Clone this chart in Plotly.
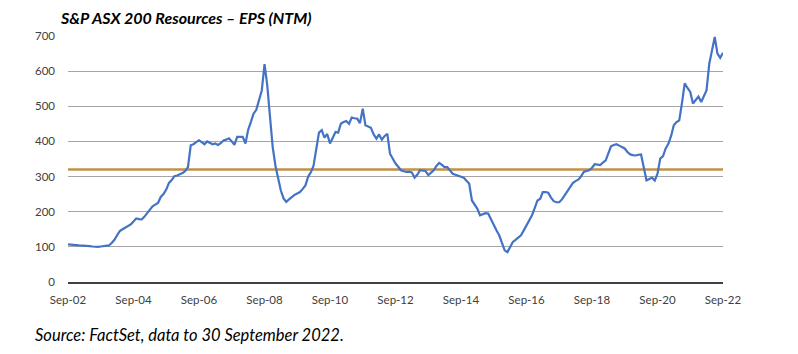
import pandas as pd
import plotly.graph_objects as go

# Monthly EPS (NTM), Sep-02 .. Sep-22
eps = [
    107, 107, 106, 105, 104, 104, 103, 102, 102, 101, 100, 100,
    101, 102, 103, 104, 111, 120, 133, 145, 150, 155, 160, 164,
    172, 181, 179, 178, 186, 195, 205, 215, 220, 225, 242, 250,
    263, 282, 290, 301, 303, 306, 310, 316, 327, 389, 392, 398,
    403, 398, 392, 400, 396, 392, 394, 390, 395, 403, 405, 409,
    400, 390, 413, 414, 413, 394, 432, 455, 479, 490, 520, 545,
    620, 560, 470, 384, 330, 290, 261, 238, 228, 235, 242, 248,
    252, 256, 265, 275, 300, 313, 330, 380, 425, 432, 411, 421,
    394, 410, 427, 425, 451, 455, 458, 450, 468, 466, 465, 452,
    493, 446, 442, 439, 420, 408, 420, 405, 415, 422, 365, 350,
    337, 328, 318, 315, 313, 314, 312, 297, 305, 318, 317, 316,
    304, 310, 318, 330, 339, 333, 327, 327, 318, 308, 305, 302,
    298, 297, 288, 280, 232, 220, 209, 190, 192, 196, 195, 178,
    161, 147, 133, 110, 90, 85, 100, 114, 120, 127, 133, 147,
    161, 175, 190, 210, 232, 237, 256, 256, 254, 240, 230, 227,
    227, 235, 247, 256, 268, 282, 287, 291, 300, 313, 316, 318,
    325, 335, 334, 333, 340, 346, 365, 386, 390, 392, 388, 385,
    380, 370, 363, 361, 360, 362, 363, 325, 289, 293, 297, 289,
    308, 351, 358, 380, 394, 417, 446, 455, 460, 510, 565, 552,
    541, 508, 520, 528, 512, 530, 545, 621, 660, 697, 650, 638, 652,
]
dates = pd.date_range("2002-09-01", periods=len(eps), freq="MS")
average = [320] * len(eps)

tick_dates = ["2002-09-01", "2004-09-01", "2006-09-01", "2008-09-01", "2010-09-01",
              "2012-09-01", "2014-09-01", "2016-09-01", "2018-09-01", "2020-09-01",
              "2022-09-01"]
tick_labels = ["Sep-02", "Sep-04", "Sep-06", "Sep-08", "Sep-10", "Sep-12",
               "Sep-14", "Sep-16", "Sep-18", "Sep-20", "Sep-22"]
y_ticks = [0, 100, 200, 300, 400, 500, 600, 700]

FONT = "Lato"
W, H = 798, 354
L, R, T, B = 68, 75, 36, 72
PW, PH = W - L - R, H - T - B


def px_x(x):
    return (x - L) / PW


def px_y(y):
    return (H - B - y) / PH


fig = go.Figure()
fig.add_trace(go.Scatter(x=dates, y=average, mode="lines",
                         line=dict(color="#C0914A", width=2.5), hoverinfo="skip"))
fig.add_trace(go.Scatter(x=dates, y=eps, mode="lines",
                         line=dict(color="#4472C4", width=2.2)))

fig.update_layout(
    width=W, height=H,
    margin=dict(l=L, r=R, t=T, b=B),
    paper_bgcolor="white", plot_bgcolor="white",
    showlegend=False,
    font=dict(family=FONT, size=11, color="#404040"),
    xaxis=dict(
        range=["2002-09-01", "2022-09-01"],
        tickvals=tick_dates, ticktext=tick_labels,
        showgrid=False, showline=True, linecolor="#404040", linewidth=1.5,
        ticks="", ticklabelstandoff=6,
        tickfont=dict(family=FONT, size=11.5, color="#404040"),
        zeroline=False,
    ),
    yaxis=dict(
        range=[0, 700], tickvals=y_ticks,
        showgrid=True, gridcolor="#A6A6A6", gridwidth=1,
        zeroline=False, showline=False, ticks="",
        ticklabelstandoff=12,
        tickfont=dict(family=FONT, size=11.5, color="#404040"),
    ),
    annotations=[
        dict(text="S&P ASX 200 Resources – EPS (NTM)",
             x=px_x(58), y=px_y(17), xref="paper", yref="paper", showarrow=False,
             xanchor="left", yanchor="middle",
             font=dict(family=FONT, size=16, color="#000000",
                       weight="bold", style="italic")),
        dict(text="Source: FactSet, data to 30 September 2022.",
             x=px_x(33), y=px_y(335), xref="paper", yref="paper", showarrow=False,
             xanchor="left", yanchor="middle",
             font=dict(family=FONT, size=16.5, color="#000000", style="italic")),
    ],
)

fig.write_html("out.html")
